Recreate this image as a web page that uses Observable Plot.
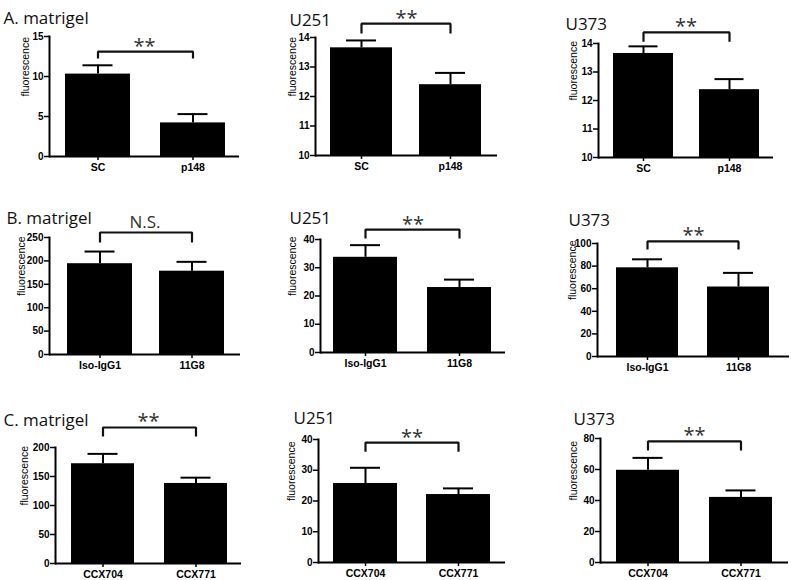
<!DOCTYPE html>
<html><head><meta charset="utf-8">
<script src="https://cdn.jsdelivr.net/npm/d3@7"></script>
<script src="https://cdn.jsdelivr.net/npm/@observablehq/plot@0.6"></script>
<style>
body{margin:0;background:#fff}
#chart{position:relative;width:791px;height:580px;overflow:hidden;background:#fff}
#chart svg{position:absolute}
#chart g[aria-label="y-axis tick label"] text,#chart g[aria-label="x-axis tick label"] text{font-weight:bold !important;font-family:'Liberation Sans',Arial,sans-serif !important}
</style></head><body><div id="chart"></div>
<script>
// ---- data ----
const titles = ["A. matrigel","U251","U373","B. matrigel","U251","U373","C. matrigel","U251","U373"];
const categories = [
  ["SC","p148"],["SC","p148"],["SC","p148"],
  ["Iso-IgG1","11G8"],["Iso-IgG1","11G8"],["Iso-IgG1","11G8"],
  ["CCX704","CCX771"],["CCX704","CCX771"],["CCX704","CCX771"]
];
const means   = [[10.3,4.2],[13.65,12.4],[13.65,12.38],[194,178],[33.7,23],[78.5,61.5],[172,138],[25.7,22.1],[59.5,42]];
const errTops = [[11.4,5.3],[13.9,12.8],[13.9,12.75],[220,198],[38,25.8],[86,74],[189,148],[30.8,24.1],[67.5,46.5]];
const yDomains = [[0,15],[10,14],[10,14],[0,250],[0,40],[0,100],[0,200],[0,40],[0,80]];
const yTicks = [[0,5,10,15],[10,11,12,13,14],[10,11,12,13,14],[0,50,100,150,200,250],[0,10,20,30,40],[0,20,40,60,80,100],[0,50,100,150,200],[0,10,20,30,40],[0,20,40,60,80]];
const sigLabels = ["**","**","**","N.S.","**","**","**","**","**"];
const bracketTop = [13.1,14.47,14.39,260.7,43.5,101.8,234.5,39.0,78.1];
const bracketTip = [12.4,14.17,14.1,241.5,40.7,95.6,220.7,36.4,72.9];
const yLabel = "fluorescence";

// ---- layout (pixels) ----
const cells = [[0,0,270,180],[270,0,260,180],[530,0,261,180],[0,180,270,200],[270,180,260,200],[530,180,261,200],[0,380,270,200],[270,380,260,200],[530,380,261,200]];
const frames = [[49,239,36,156],[315,497,37,155],[598,773,43,157],[49,240,237,354],[320,505,239,352],[597,789,243,356],[55,241,447,563],[318,505,439,562],[600,788,438,562]];
const barLayout = [[65,65,160],[330,62,419],[612,61,699],[67,65,159],[333,64,427],[616,62,707],[71,63,164],[333,64,426],[616,63,709]];
const titlePos = [[3,17],[289,19],[565,23],[6,217],[289,217],[568,219],[3,419],[293,417],[573,418]];
const yLabelX = [25,292,573,21,292,572,24,291,573];
const capW = 30;
const FS_T = 17;
const FS_STAR = 20;
const AX_FONT = "'Liberation Sans', Arial, sans-serif";

const chart = document.getElementById("chart");
titles.forEach((title, i) => {
  const [cx, cy, cw, ch] = cells[i];
  const [x0, x1, yT, yB] = frames[i];
  const [L1, bw, L2] = barLayout[i];
  const pi = 1 - bw / (L2 - L1);
  const cats = categories[i];
  const ymin = yDomains[i][0];
  const data = cats.map((c, j) => ({cat: c, mean: means[i][j], err: errTops[i][j]}));
  const bracket = [
    {cat: cats[0], y: bracketTip[i]}, {cat: cats[0], y: bracketTop[i]},
    {cat: cats[1], y: bracketTop[i]}, {cat: cats[1], y: bracketTip[i]}
  ];
  const sig = sigLabels[i];
  const sigFs = sig === "N.S." ? FS_T : FS_STAR;
  const sigDy = (sig === "N.S." ? -5 : 1) - 0.32 * sigFs;
  const inset = (bw - capW) / 2;
  const plot = Plot.plot({
    width: cw, height: ch,
    marginLeft: x0 - cx, marginRight: cx + cw - x1,
    marginTop: yT - cy, marginBottom: cy + ch - yB,
    style: {fontFamily: AX_FONT, background: "transparent", overflow: "visible", color: "#000"},
    x: {type: "band", domain: cats, range: [L1 - cx, L2 + bw - cx], paddingInner: pi, paddingOuter: 0},
    y: {domain: yDomains[i]},
    marks: [
      Plot.barY(data, {x: "cat", y1: () => ymin, y2: "mean", fill: "#000"}),
      Plot.ruleX(data, {x: "cat", y1: "mean", y2: "err", stroke: "#000", strokeWidth: 2}),
      Plot.tickY(data, {x: "cat", y: "err", stroke: "#000", strokeWidth: 2, insetLeft: inset, insetRight: inset}),
      Plot.ruleY([ymin], {stroke: "#000", strokeWidth: 2}),
      Plot.frame({anchor: "left", stroke: "#000", strokeWidth: 2}),
      Plot.axisY({ticks: yTicks[i], tickFormat: d3.format("d"), tickSize: 5, tickPadding: 1, fontSize: 10, fontWeight: "bold", fontFamily: AX_FONT, strokeWidth: 1.5, label: null}),
      Plot.axisX({tickSize: 4, tickPadding: 3, fontSize: 10.5, fontWeight: "bold", fontFamily: AX_FONT, strokeWidth: 1.5, label: null}),
      Plot.line(bracket, {x: "cat", y: "y", stroke: "#111", strokeWidth: 2.2, strokeLinejoin: "miter", strokeLinecap: "square"}),
      Plot.text([sig], {y: () => bracketTop[i], frameAnchor: "middle", dy: sigDy, fontSize: sigFs, fontFamily: "'Open Sans', sans-serif", fill: "#333"}),
      Plot.text([title], {frameAnchor: "top-left", textAnchor: "start", dx: titlePos[i][0] - x0, dy: titlePos[i][1] - yT - 0.32 * FS_T, fontSize: FS_T, fontFamily: "'Open Sans', sans-serif", fill: "#111"}),
      Plot.text([yLabel], {frameAnchor: "left", rotate: -90, dx: yLabelX[i] - x0, fontSize: 10.5, fontFamily: AX_FONT, fill: "#000"})
    ]
  });
  plot.style.left = cx + "px";
  plot.style.top = cy + "px";
  chart.appendChild(plot);
});
</script>
</body></html>
